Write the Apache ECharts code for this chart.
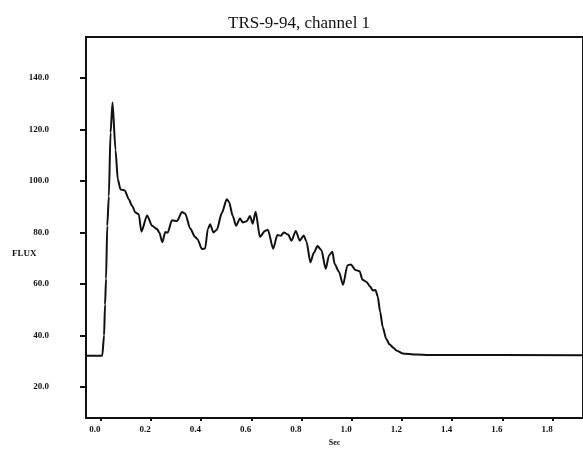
<!DOCTYPE html>
<html>
<head>
<meta charset="utf-8">
<script src="https://cdn.jsdelivr.net/npm/echarts@6/dist/echarts.min.js"></script>
<style>
html,body{margin:0;padding:0;background:#fff;}
#chart{width:583px;height:452px;}
</style>
</head>
<body>
<div id="chart"></div>
<script>
var titleText = 'TRS-9-94, channel 1';
var xName = 'Sec';
var yName = 'FLUX';
var xTicks = [0, 0.2, 0.4, 0.6, 0.8, 1.0, 1.2, 1.4, 1.6, 1.8];
var yTicks = [20, 40, 60, 80, 100, 120, 140];
var timeSec = [
 -0.058, 0.0067, 0.0139, 0.0178, 0.0218, 0.0266, 0.0329, 0.0397, 0.0476,
 0.0595, 0.0686, 0.0793, 0.0964, 0.1122, 0.1257, 0.1388, 0.1519, 0.1626,
 0.1852, 0.205, 0.2248, 0.2339, 0.2458, 0.2577, 0.2669, 0.2843, 0.3041,
 0.324, 0.337, 0.3569, 0.3767, 0.3858, 0.4033, 0.4163, 0.427, 0.4362,
 0.4492, 0.4627, 0.4826, 0.5024, 0.5115, 0.5262, 0.5393, 0.5551, 0.5658,
 0.5817, 0.5948, 0.6055, 0.6174, 0.6344, 0.6542, 0.6661, 0.6872, 0.7038,
 0.7177, 0.7296, 0.7466, 0.7601, 0.7772, 0.793, 0.8089, 0.8196, 0.8354,
 0.8485, 0.8636, 0.8791, 0.8961, 0.91, 0.9227, 0.9318, 0.9489, 0.9655,
 0.9826, 0.996, 1.015, 1.031, 1.0428, 1.0587, 1.0733, 1.0836, 1.0944,
 1.1035, 1.113, 1.1233, 1.1368, 1.1499, 1.1657, 1.1776, 1.2026, 1.2557,
 1.3085, 1.93
];
var flux = [
 32.2, 32.2, 40, 52, 62, 82.6, 94, 118.7, 130.4,
 112, 100.6, 96.7, 96.3, 92.9, 90.3, 87.7, 87.1, 80.3,
 86.6, 82.6, 81.3, 80, 76.2, 80.2, 79.9, 84.7, 84.4,
 87.9, 87.3, 81.5, 78.2, 77.4, 73.6, 73.8, 81.3, 83.2,
 80, 81, 87.5, 92.9, 91.8, 86.4, 82.6, 85.4, 83.9,
 84.3, 86.4, 83.4, 88, 78.3, 80.6, 81, 73.7, 79,
 78.7, 80, 79.2, 76.8, 80.6, 76.8, 78.8, 76.5, 68.4,
 72, 74.7, 73.2, 65.9, 71.2, 72.5, 67.8, 64.8, 59.7,
 67.2, 67.6, 65.4, 65, 61.7, 60.8, 59, 57.5, 57.7,
 55.2, 49.2, 43.3, 38.8, 36.6, 35.3, 34.2, 33.1, 32.7,
 32.5, 32.4
];

var data = timeSec.map(function (t, i) { return [t, flux[i]]; });
var chart = echarts.init(document.getElementById('chart'), null, {renderer: 'canvas'});
chart.setOption({
  animation: false,
  backgroundColor: '#fff',
  title: {
    text: titleText,
    left: 223,
    top: 10,
    textStyle: {fontFamily: 'Liberation Serif', fontWeight: 'normal', fontSize: 17, color: '#111'}
  },
  graphic: [{
    type: 'text',
    left: 12,
    top: 249,
    style: {text: yName, font: 'bold 9px "Liberation Serif"', fill: '#111'}
  }],
  grid: {
    left: 86, top: 37, right: -2, bottom: 32,
    show: true, borderColor: '#111', borderWidth: 2, backgroundColor: 'transparent'
  },
  xAxis: {
    type: 'value',
    min: -0.058,
    max: 1.9206,
    name: xName,
    nameLocation: 'middle',
    nameGap: 16,
    nameTextStyle: {fontFamily: 'Liberation Serif', fontWeight: 'bold', fontSize: 8, color: '#111'},
    axisLine: {show: true, onZero: false, lineStyle: {color: '#111', width: 2}},
    axisTick: {show: true, length: 3, lineStyle: {color: '#111', width: 2}, customValues: xTicks},
    axisLabel: {
      customValues: xTicks,
      align: 'right',
      margin: 7,
      formatter: function (v) { return v.toFixed(1); },
      fontFamily: 'Liberation Serif', fontWeight: 'bold', fontSize: 9, color: '#111'
    },
    splitLine: {show: false}
  },
  yAxis: {
    type: 'value',
    min: 8,
    max: 155.8,
    axisLine: {show: true, onZero: false, lineStyle: {color: '#111', width: 2}},
    axisTick: {show: true, length: 6, lineStyle: {color: '#111', width: 2}, customValues: yTicks},
    axisLabel: {
      customValues: yTicks,
      margin: 37,
      formatter: function (v) { return v.toFixed(1); },
      fontFamily: 'Liberation Serif', fontWeight: 'bold', fontSize: 9, color: '#111'
    },
    splitLine: {show: false}
  },
  series: [{
    type: 'line',
    data: data,
    showSymbol: false,
    smooth: 0.25,
    smoothMonotone: 'x',
    lineStyle: {color: '#111', width: 2},
    clip: true
  }]
});
</script>
</body>
</html>
